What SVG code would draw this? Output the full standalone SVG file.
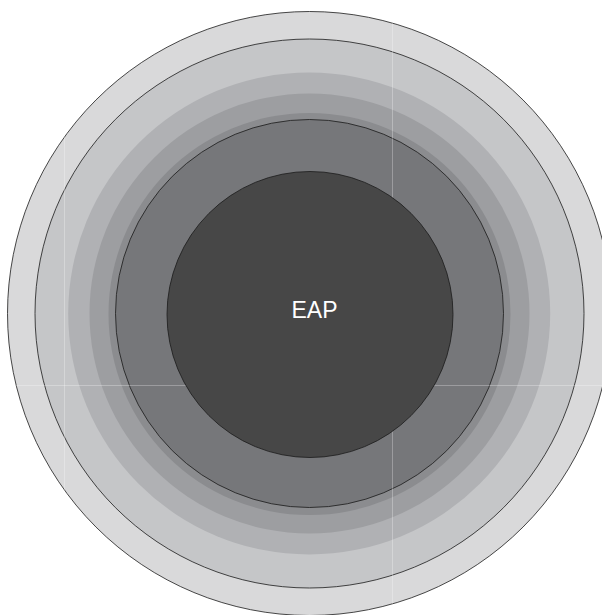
<svg xmlns="http://www.w3.org/2000/svg" width="602" height="615" viewBox="0 0 602 615">
  <style>
    .edge { stroke: #1a1a1a; stroke-width: 0.8; }
    .seam { stroke: #ffffff; stroke-opacity: 0.28; stroke-width: 1; fill: none; }
    .label { font-family: "Liberation Sans", Arial, sans-serif; font-size: 23px; fill: #ffffff; text-anchor: middle; }
  </style>
  <defs>
    <clipPath id="outerClip">
      <circle cx="309.5" cy="313.5" r="302"/>
    </clipPath>
  </defs>
  <rect x="0" y="0" width="602" height="615" fill="#ffffff"/>
  <g id="ring1">
    <circle cx="309.5" cy="313.5" r="302" fill="#d9d9da" class="edge"/>
  </g>
  <g id="ring2">
    <circle cx="309.5" cy="313.5" r="274.5" fill="#c5c6c8" class="edge"/>
  </g>
  <g id="ring3">
    <circle cx="309.2" cy="313.5" r="241" fill="#b0b1b4"/>
  </g>
  <g id="ring4">
    <circle cx="309.5" cy="313.5" r="220" fill="#9d9ea1"/>
  </g>
  <g id="ring5">
    <circle cx="309.5" cy="314" r="201" fill="#8b8c8f"/>
  </g>
  <g id="ring6">
    <circle cx="309.5" cy="313.5" r="194" fill="#76777a" class="edge"/>
  </g>
  <g id="seams" clip-path="url(#outerClip)">
    <line class="seam" x1="64.5" y1="0" x2="64.5" y2="615"/>
    <line class="seam" x1="392.5" y1="0" x2="392.5" y2="615"/>
    <line class="seam" x1="0" y1="385.5" x2="602" y2="385.5"/>
  </g>
  <g id="core">
    <circle cx="310" cy="314.5" r="143" fill="#474747" class="edge"/>
    <text class="label" x="314.5" y="318">EAP</text>
  </g>
</svg>
